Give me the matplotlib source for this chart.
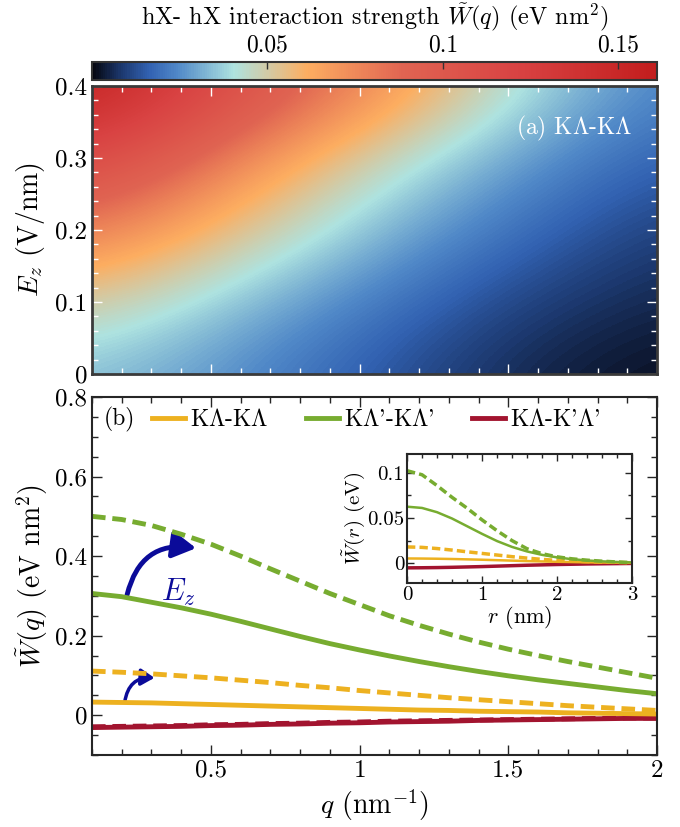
import matplotlib
matplotlib.use("Agg")
import matplotlib.pyplot as plt
import numpy as np
from matplotlib.colors import LinearSegmentedColormap
from matplotlib.patches import FancyArrowPatch
from matplotlib.ticker import MultipleLocator

plt.rcParams['font.family'] = ['cmr10', 'DejaVu Serif']
plt.rcParams['mathtext.fontset'] = 'cm'
plt.rcParams['axes.formatter.use_mathtext'] = True
plt.rcParams['axes.unicode_minus'] = False

# ---- panel (a): heat map W(q, Ez) read on an even grid
hm_q = [0.1, 0.575, 1.05, 1.525, 2.0]
hm_ez = [0.0, 0.1, 0.2, 0.3, 0.4]
hm_w = [
    [0.034, 0.025, 0.014, 0.005, 0.0015],
    [0.050, 0.034, 0.021, 0.010, 0.005],
    [0.080, 0.054, 0.033, 0.019, 0.009],
    [0.115, 0.076, 0.046, 0.028, 0.016],
    [0.160, 0.110, 0.074, 0.042, 0.023],
]

# ---- panel (b): W(q) curves
q = [0.1, 0.2, 0.3, 0.4, 0.5, 0.6, 0.7, 0.8, 0.9, 1.0,
     1.1, 1.2, 1.3, 1.4, 1.5, 1.6, 1.7, 1.8, 1.9, 2.0]
kl_solid = [0.033, 0.032, 0.031, 0.029, 0.027, 0.025, 0.023, 0.021, 0.019, 0.017,
            0.015, 0.013, 0.012, 0.010, 0.009, 0.008, 0.006, 0.005, 0.004, 0.003]
kl_dash = [0.111, 0.108, 0.104, 0.099, 0.094, 0.088, 0.082, 0.075, 0.069, 0.062,
           0.056, 0.050, 0.044, 0.039, 0.034, 0.029, 0.024, 0.020, 0.016, 0.012]
klp_solid = [0.306, 0.298, 0.284, 0.270, 0.254, 0.236, 0.217, 0.198, 0.180, 0.164,
             0.149, 0.135, 0.122, 0.110, 0.099, 0.089, 0.080, 0.071, 0.062, 0.054]
klp_dash = [0.500, 0.492, 0.477, 0.455, 0.430, 0.400, 0.368, 0.337, 0.306, 0.278,
            0.250, 0.226, 0.204, 0.184, 0.166, 0.150, 0.135, 0.121, 0.107, 0.093]
kkp_solid = [-0.031, -0.030, -0.029, -0.028, -0.026, -0.025, -0.023, -0.022, -0.020, -0.019,
             -0.017, -0.016, -0.015, -0.013, -0.012, -0.011, -0.010, -0.009, -0.008, -0.008]
kkp_dash = [-0.029, -0.028, -0.027, -0.026, -0.024, -0.023, -0.021, -0.020, -0.018, -0.017,
            -0.015, -0.014, -0.013, -0.012, -0.011, -0.010, -0.009, -0.008, -0.007, -0.007]

# ---- inset: W(r)
r = [0.0, 0.2, 0.4, 0.6, 0.8, 1.0, 1.2, 1.4, 1.6, 1.8, 2.0, 2.2, 2.4, 2.6, 2.8, 3.0]
in_kl_solid = [0.0052, 0.0051, 0.0049, 0.0046, 0.0042, 0.0038, 0.0033, 0.0028,
               0.0023, 0.0019, 0.0015, 0.0012, 0.0009, 0.0007, 0.0005, 0.0003]
in_kl_dash = [0.0180, 0.0175, 0.0162, 0.0145, 0.0126, 0.0108, 0.0090, 0.0072,
              0.0056, 0.0042, 0.0031, 0.0023, 0.0017, 0.0012, 0.0008, 0.0005]
in_klp_solid = [0.0626, 0.0612, 0.0565, 0.0495, 0.0410, 0.0325, 0.0245, 0.0180,
                0.0130, 0.0092, 0.0064, 0.0044, 0.0030, 0.0020, 0.0013, 0.0008]
in_klp_dash = [0.1025, 0.0980, 0.0860, 0.0730, 0.0610, 0.0480, 0.0360, 0.0250,
               0.0160, 0.0105, 0.0070, 0.0048, 0.0033, 0.0022, 0.0013, 0.0006]
in_kkp = [-0.0052, -0.0051, -0.0049, -0.0046, -0.0042, -0.0038, -0.0033, -0.0028,
          -0.0023, -0.0019, -0.0015, -0.0012, -0.0009, -0.0007, -0.0005, -0.0003]

yellow = '#EDB120'
green = '#77AC30'
red = '#A2142F'
navy = '#0b0b99'

cmap = LinearSegmentedColormap.from_list('hx', [
    (0.00, '#05060f'), (0.05, '#1c386e'), (0.10, '#3262b2'), (0.15, '#5088c8'),
    (0.25, '#aee3e0'), (0.38, '#fdae61'), (0.55, '#e06452'),
    (0.75, '#d94343'), (1.00, '#c21d1d')])

W, H = 680, 827
fig = plt.figure(figsize=(6.8, 8.27), dpi=100)


def box(x0, y0, x1, y1):
    return [x0 / W, 1 - y1 / H, (x1 - x0) / W, (y1 - y0) / H]


cax = fig.add_axes(box(92, 62, 657, 80))
ax_a = fig.add_axes(box(92, 86, 657, 374))
ax_b = fig.add_axes(box(92, 397, 657, 755))
ax_in = fig.add_axes(box(407, 454, 632, 583))

# panel (a)
dq = (hm_q[1] - hm_q[0]) / 2
de = (hm_ez[1] - hm_ez[0]) / 2
im = ax_a.imshow(np.array(hm_w), origin='lower', aspect='auto', cmap=cmap,
                 interpolation='bicubic', vmin=0, vmax=0.161,
                 extent=(hm_q[0] - dq, hm_q[-1] + dq, hm_ez[0] - de, hm_ez[-1] + de))
ax_a.set_xlim(0.1, 2)
ax_a.set_ylim(0, 0.4)
ax_a.xaxis.set_major_locator(MultipleLocator(0.5))
ax_a.xaxis.set_minor_locator(MultipleLocator(0.1))
ax_a.yaxis.set_major_locator(MultipleLocator(0.1))
ax_a.yaxis.set_minor_locator(MultipleLocator(0.02))
ax_a.tick_params(which='both', direction='in', color='white', top=True, right=True,
                 labelbottom=False, labelsize=18, width=1)
ax_a.tick_params(which='major', length=7)
ax_a.tick_params(which='minor', length=4)
ax_a.set_yticks([0, 0.1, 0.2, 0.3, 0.4])
ax_a.set_yticklabels(['0', '0.1', '0.2', '0.3', '0.4'])
for s in ax_a.spines.values():
    s.set_color('#3a3a3a')
    s.set_linewidth(2)
ax_a.set_ylabel('$E_z$ (V/nm)', fontsize=20, labelpad=6)
ax_a.text(0.957, 0.854, '(a) K$\\Lambda$-K$\\Lambda$', transform=ax_a.transAxes,
          color='white', fontsize=17, ha='right', va='center')

# colorbar
cb = fig.colorbar(im, cax=cax, orientation='horizontal')
cax.xaxis.set_ticks_position('top')
cax.xaxis.set_label_position('top')
cb.set_ticks([0.05, 0.1, 0.15])
cb.set_ticklabels(['0.05', '0.1', '0.15'])
cax.tick_params(direction='in', length=5, width=1, color='#333333', labelsize=17, pad=4)
cb.outline.set_edgecolor('#333333')
cb.outline.set_linewidth(1.5)
cax.set_xlabel('hX- hX interaction strength $\\tilde{W}(q)$ (eV nm$^2$)', fontsize=17.5,
               labelpad=7)

# panel (b)
dash = (2.8, 1.4)
ax_b.plot(q, kkp_dash, color=red, lw=3.5, dashes=dash)
ax_b.plot(q, kkp_solid, color=red, lw=3.5)
ax_b.plot(q, kl_dash, color=yellow, lw=3.5, dashes=dash)
ax_b.plot(q, kl_solid, color=yellow, lw=3.5, label='K$\\Lambda$-K$\\Lambda$')
ax_b.plot(q, klp_dash, color=green, lw=3.5, dashes=dash)
ax_b.plot(q, klp_solid, color=green, lw=3.5, label="K$\\Lambda$'-K$\\Lambda$'")
ax_b.plot([], [], color=red, lw=3.5, label="K$\\Lambda$-K'$\\Lambda$'")
ax_b.set_xlim(0.1, 2)
ax_b.set_ylim(-0.1, 0.8)
ax_b.xaxis.set_minor_locator(MultipleLocator(0.1))
ax_b.yaxis.set_minor_locator(MultipleLocator(0.05))
ax_b.set_xticks([0.5, 1, 1.5, 2])
ax_b.set_xticklabels(['0.5', '1', '1.5', '2'])
ax_b.set_yticks([0, 0.2, 0.4, 0.6, 0.8])
ax_b.set_yticklabels(['0', '0.2', '0.4', '0.6', '0.8'])
ax_b.tick_params(which='both', direction='in', top=True, right=True, labelsize=18,
                 width=1, color='#262626')
ax_b.tick_params(which='major', length=7)
ax_b.tick_params(which='minor', length=4)
for s in ax_b.spines.values():
    s.set_color('#262626')
    s.set_linewidth(1.5)
ax_b.set_xlabel('$q$ (nm$^{-1}$)', fontsize=20, labelpad=4)
ax_b.set_ylabel('$\\tilde{W}(q)$ (eV nm$^2$)', fontsize=20, labelpad=4)
ax_b.text(0.021, 0.936, '(b)', transform=ax_b.transAxes, fontsize=17, va='center')
ax_b.legend(loc='center left', bbox_to_anchor=(0.106, 0.936), ncol=3, frameon=False,
            fontsize=17, handlelength=1.4, handletextpad=0.2, columnspacing=1.6,
            borderpad=0, borderaxespad=0)

# E_z arrows
big = FancyArrowPatch((0.218, 0.303), (0.45, 0.42), connectionstyle='arc3,rad=-0.45',
                      arrowstyle='-|>,head_length=14,head_width=8', color=navy, lw=3.5,
                      shrinkA=0, shrinkB=0)
ax_b.add_patch(big)
small = FancyArrowPatch((0.21, 0.033), (0.31, 0.094), connectionstyle='arc3,rad=-0.45',
                        arrowstyle='-|>,head_length=8,head_width=5', color=navy, lw=2.5,
                        shrinkA=0, shrinkB=0)
ax_b.add_patch(small)
ax_b.text(0.39, 0.31, '$E_z$', color=navy, fontsize=22, ha='center', va='center')

# inset
dash_in = (2.4, 1.2)
ax_in.plot(r, in_kkp, color=red, lw=2.5)
ax_in.plot(r, in_kl_dash, color=yellow, lw=2.5, dashes=dash_in)
ax_in.plot(r, in_kl_solid, color=yellow, lw=1.8)
ax_in.plot(r, in_klp_dash, color=green, lw=2.5, dashes=dash_in)
ax_in.plot(r, in_klp_solid, color=green, lw=1.8)
ax_in.set_xlim(0, 3)
ax_in.set_ylim(-0.022, 0.121)
ax_in.set_xticks([0, 1, 2, 3])
ax_in.set_xticklabels(['0', '1', '2', '3'])
ax_in.set_yticks([0, 0.05, 0.1])
ax_in.set_yticklabels(['0', '0.05', '0.1'])
ax_in.xaxis.set_minor_locator(MultipleLocator(0.2))
ax_in.yaxis.set_minor_locator(MultipleLocator(0.025))
ax_in.tick_params(which='both', direction='in', top=True, right=True, labelsize=15,
                  width=1, color='#262626', pad=2)
ax_in.tick_params(which='major', length=5)
ax_in.tick_params(which='minor', length=3)
for s in ax_in.spines.values():
    s.set_color('#262626')
    s.set_linewidth(1.5)
ax_in.set_xlabel('$r$ (nm)', fontsize=16, labelpad=0)
ax_in.set_ylabel('$\\tilde{W}(r)$ (eV)', fontsize=15, labelpad=0)

fig.savefig('out.png', dpi=100)
